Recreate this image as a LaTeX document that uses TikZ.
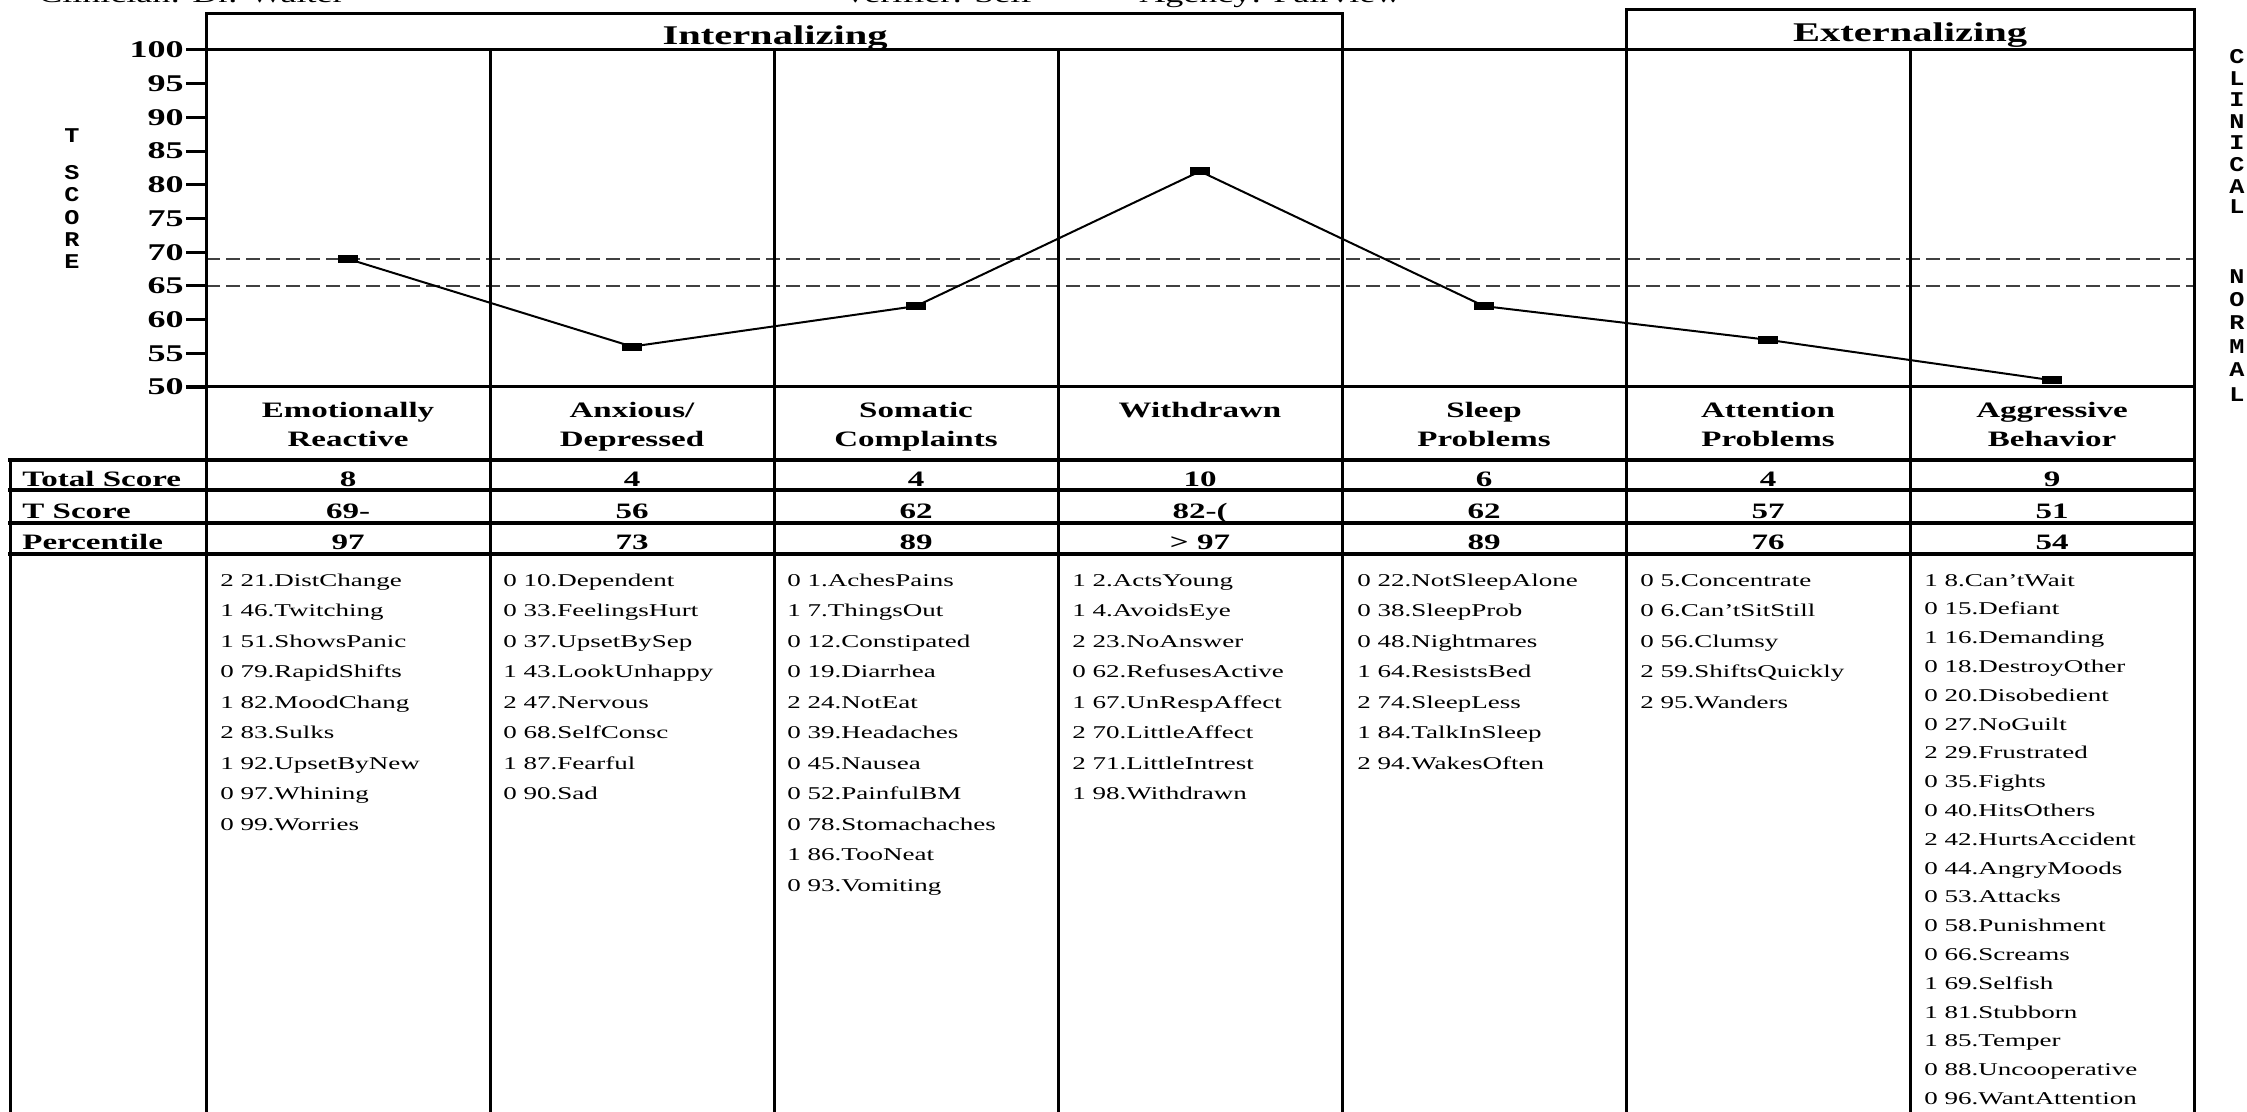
\documentclass[tikz,border=0pt]{standalone}
\usepackage{fontspec}
\setmainfont{Liberation Serif}[FakeStretch=1.5]
\newfontfamily\lettersfont{Liberation Mono}[FakeStretch=1.2]
\begin{document}
\begin{tikzpicture}[x=0.5pt,y=-0.5pt,
  frame/.style={line width=1.5pt,line cap=rect},
  rowline/.style={line width=1.9pt,line cap=rect},
  cutline/.style={dash pattern=on 7pt off 3pt,line width=1.1pt,black!75},
  dataline/.style={line width=1pt},
  marker/.style={fill=black,minimum width=10pt,minimum height=4pt,inner sep=0pt},
  ticklab/.style={font=\bfseries\fontsize{12}{12}\selectfont,anchor=east,inner sep=0pt},
  group/.style={font=\bfseries\fontsize{13.5}{14}\selectfont,anchor=base,inner sep=0pt},
  head/.style={font=\bfseries\fontsize{11}{12}\selectfont,anchor=base,inner sep=0pt},
  val/.style={font=\bfseries\fontsize{11}{12}\selectfont,anchor=base,inner sep=0pt},
  rowlab/.style={font=\bfseries\fontsize{11}{12}\selectfont,anchor=base west,inner sep=0pt},
  item/.style={font=\fontsize{9}{10}\selectfont,anchor=base west,inner sep=0pt},
  vletter/.style={font=\lettersfont\bfseries\fontsize{10.5}{10.5}\selectfont,inner sep=0pt},
  toptext/.style={font=\fontsize{12}{12}\selectfont,anchor=base west,inner sep=0pt}
]
\useasboundingbox (0,0) rectangle (2247,1112);
\fill[white] (0,0) rectangle (2247,1112);

% cut-off header text at the very top (cut off in the reference as well)
\node[toptext] (clin) at (38,3) {Clinician: Dr. Walter};
\node[toptext] (verif) at (842,3) {Verifier: Self};
\node[toptext] (agency) at (1139,3) {Agency: Fairview};

% group header boxes
\draw[frame] (206,14) -- (1342,14);
\draw[frame] (1626,10) -- (2194,10);
\node[group] (intern) at (775,45) {Internalizing};
\node[group] (extern) at (1910,42) {Externalizing};

% cut-off lines
\draw[cutline] (206,259) -- (2194,259);
\draw[cutline] (206,286) -- (2194,286);

% plot frame and column lines
\draw[frame] (206,50) -- (2194,50);
\draw[frame] (187,387) -- (2194,387);
\draw[frame] (206,14) -- (206,1116);
\draw[frame] (1342,14) -- (1342,1116);
\draw[frame] (1626,10) -- (1626,1116);
\draw[frame] (2194,10) -- (2194,1116);
\foreach \c in {490,774,1058,1910} \draw[frame] (\c,50) -- (\c,1116);
\draw[frame] (10,460) -- (10,1116);
\foreach \r in {460,490,523,554} \draw[rowline] (10,\r) -- (2194,\r);

% T-score axis
\foreach \v in {100,95,...,50} {
  \draw[frame] (187,{50+(100-\v)*6.74}) -- (206,{50+(100-\v)*6.74});
  \node[ticklab] (tl\v) at (184,{50+(100-\v)*6.74}) {\v};
}
\foreach \l/\y in {T/136,S/173,C/195,O/218,R/240,E/262}
  \node[vletter] (ts\y) at (72,\y) {\l};
\foreach \l/\y [count=\i] in {C/57,L/79,I/100,N/122,I/143,C/165,A/187,L/207}
  \node[vletter] (cl\i) at (2237,\y) {\l};
\foreach \l/\y [count=\i] in {N/277,O/300,R/323,M/347,A/370,L/395}
  \node[vletter] (no\i) at (2237,\y) {\l};

% profile
\foreach \t [count=\i] in {69,56,62,82,62,57,51}
  \node[marker] (m\i) at ({206+284*(\i-0.5)},{387-(\t-50)*6.74}) {};
\draw[dataline] (m1.center) -- (m2.center) -- (m3.center) -- (m4.center)
  -- (m5.center) -- (m6.center) -- (m7.center);

% scale names
\foreach \a/\b [count=\i] in {Emotionally/Reactive,{Anxious/}/Depressed,Somatic/Complaints,Withdrawn/{},Sleep/Problems,Attention/Problems,Aggressive/Behavior} {
  \node[head] (ha\i) at ({206+284*(\i-0.5)},417) {\a};
  \node[head] (hb\i) at ({206+284*(\i-0.5)},446) {\b};
}

% score rows
\node[rowlab] (lt) at (22,486) {Total Score};
\node[rowlab] (lts) at (22,518) {T Score};
\node[rowlab] (lp) at (22,549) {Percentile};
\foreach \a/\b/\c [count=\i] in {8/69-/97,4/56/73,4/62/89,10/82-(/{> 97},6/62/89,4/57/76,9/51/54} {
  \node[val] (vt\i) at ({206+284*(\i-0.5)},486) {\a};
  \node[val] (vs\i) at ({206+284*(\i-0.5)},518) {\b};
  \node[val] (vp\i) at ({206+284*(\i-0.5)},549) {\c};
}

% item lists
\foreach \t [count=\i from 0] in {2 21.DistChange,1 46.Twitching,1 51.ShowsPanic,0 79.RapidShifts,1 82.MoodChang,2 83.Sulks,1 92.UpsetByNew,0 97.Whining,0 99.Worries}
  \node[item] (ia\i) at (220,{586+30.5*\i}) {\t};
\foreach \t [count=\i from 0] in {0 10.Dependent,0 33.FeelingsHurt,0 37.UpsetBySep,1 43.LookUnhappy,2 47.Nervous,0 68.SelfConsc,1 87.Fearful,0 90.Sad}
  \node[item] (ib\i) at (503,{586+30.5*\i}) {\t};
\foreach \t [count=\i from 0] in {0 1.AchesPains,1 7.ThingsOut,0 12.Constipated,0 19.Diarrhea,2 24.NotEat,0 39.Headaches,0 45.Nausea,0 52.PainfulBM,0 78.Stomachaches,1 86.TooNeat,0 93.Vomiting}
  \node[item] (ic\i) at (787,{586+30.5*\i}) {\t};
\foreach \t [count=\i from 0] in {1 2.ActsYoung,1 4.AvoidsEye,2 23.NoAnswer,0 62.RefusesActive,1 67.UnRespAffect,2 70.LittleAffect,2 71.LittleIntrest,1 98.Withdrawn}
  \node[item] (id\i) at (1072,{586+30.5*\i}) {\t};
\foreach \t [count=\i from 0] in {0 22.NotSleepAlone,0 38.SleepProb,0 48.Nightmares,1 64.ResistsBed,2 74.SleepLess,1 84.TalkInSleep,2 94.WakesOften}
  \node[item] (ie\i) at (1357,{586+30.5*\i}) {\t};
\foreach \t [count=\i from 0] in {0 5.Concentrate,0 6.Can'tSitStill,0 56.Clumsy,2 59.ShiftsQuickly,2 95.Wanders}
  \node[item] (if\i) at (1640,{586+30.5*\i}) {\t};
\foreach \t [count=\i from 0] in {1 8.Can'tWait,0 15.Defiant,1 16.Demanding,0 18.DestroyOther,0 20.Disobedient,0 27.NoGuilt,2 29.Frustrated,0 35.Fights,0 40.HitsOthers,2 42.HurtsAccident,0 44.AngryMoods,0 53.Attacks,0 58.Punishment,0 66.Screams,1 69.Selfish,1 81.Stubborn,1 85.Temper,0 88.Uncooperative,0 96.WantAttention}
  \node[item] (ig\i) at (1924,{586+28.8*\i}) {\t};
\end{tikzpicture}
\end{document}
